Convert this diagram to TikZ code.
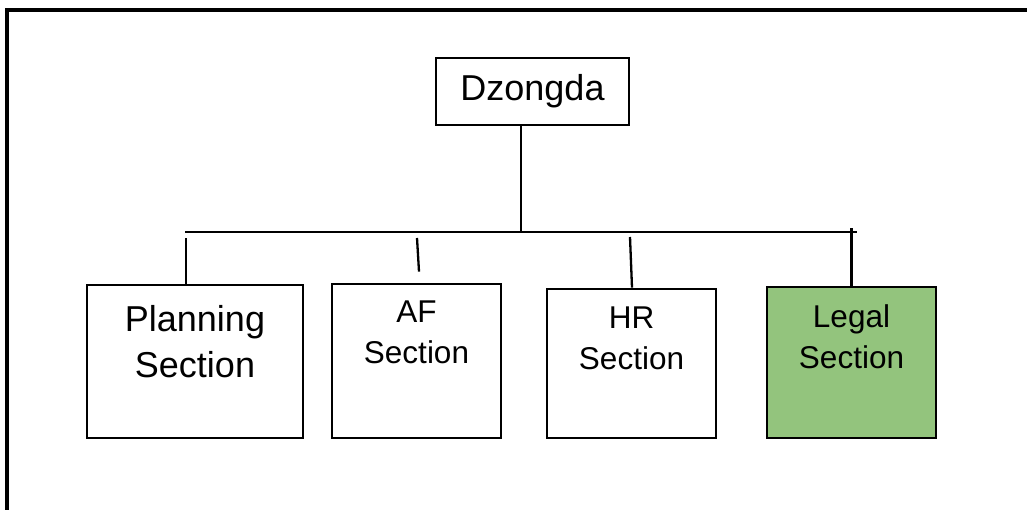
\documentclass[tikz,border=0pt]{standalone}
\usepackage{fontspec}
\setmainfont{Liberation Sans}
\usetikzlibrary{positioning,calc}
\definecolor{legalgreen}{HTML}{93C47D}

\begin{document}
\begin{tikzpicture}[x=1pt, y=1pt,
    box/.style={draw, rectangle, line width=2.8pt, inner sep=0pt, minimum width=169pt},
    bigtxt/.style={anchor=base, inner sep=0pt, align=center, font=\fontsize{36}{46}\selectfont},
    smalltxt/.style={anchor=base, inner sep=0pt, align=center, font=\fontsize{31.5}{41}\selectfont},
    wire/.style={line width=2.3pt}]
    \useasboundingbox (0,0) rectangle (1027,510);
    \draw [line width=3.2pt] (7,0) -- (7,500) -- (1027,500);

    \node [box, minimum width=193pt, minimum height=67pt, font=\fontsize{36}{46}\selectfont] (dz) at (532.5,418.5) {Dzongda};
    \node [box, minimum width=216pt, minimum height=153pt] (plan) at (195,148.5) {};
    \node [box, minimum height=154pt] (af) at (416.5,149) {};
    \node [box, minimum height=149pt] (hr) at (631.5,146.5) {};
    \node [box, minimum height=151pt, fill=legalgreen] (legal) at (851.5,147.5) {};

    % anchor=base sits on the last line
    \node [bigtxt] (plantxt) at ([yshift=-94pt]plan.north) {Planning\\Section};
    \node [smalltxt] (aftxt) at ([yshift=-81pt]af.north) {AF\\Section};
    \node [smalltxt] (hrtxt) at ([yshift=-82pt]hr.north) {HR\\Section};
    \node [smalltxt] (legaltxt) at ([yshift=-83pt]legal.north) {Legal\\Section};

    % bus line and stubs
    \coordinate (busL) at (185,278);
    \coordinate (busR) at (857,278);
    \coordinate (aftop) at (417,272);
    \coordinate (hrtop) at (630,273);
    \draw [wire] (busL) -- (busR);
    \draw [wire] ([xshift=-11.5pt]dz.south) -- ([xshift=-11.5pt]dz.south |- busL);
    \draw [wire] ([xshift=-9pt]plan.north) -- ++(0,46);
    \draw [wire] (aftop) -- ([xshift=2.5pt,yshift=11pt]af.north);
    \draw [wire] (hrtop) -- ([xshift=0.5pt]hr.north);
    \draw [wire] (legal.north) -- ++(0,58);
\end{tikzpicture}
\end{document}
